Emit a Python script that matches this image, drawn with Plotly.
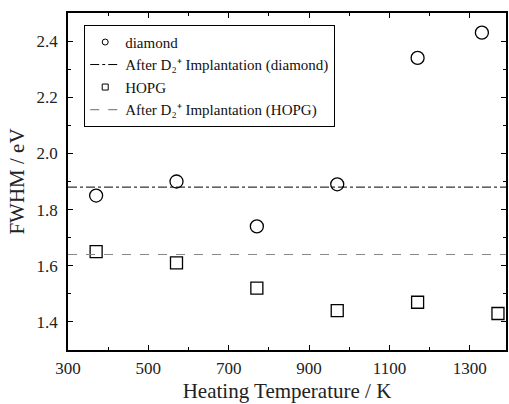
import plotly.graph_objects as go

temp_diamond = [370, 570, 770, 970, 1170, 1330]
fwhm_diamond = [1.85, 1.90, 1.74, 1.89, 2.34, 2.43]
temp_hopg = [370, 570, 770, 970, 1170, 1370]
fwhm_hopg = [1.65, 1.61, 1.52, 1.44, 1.47, 1.43]
after_diamond = 1.88
after_hopg = 1.64
x_range = [300, 1390]
y_range = [1.3, 2.5]
x_ticks = [300, 500, 700, 900, 1100, 1300]
y_ticks = [1.4, 1.6, 1.8, 2.0, 2.2, 2.4]

FONT = "Liberation Serif"

fig = go.Figure()
# data traces (not in legend)
fig.add_trace(go.Scatter(x=temp_diamond, y=fwhm_diamond, mode="markers", showlegend=False,
                         marker=dict(symbol="circle-open", size=13, color="black", line=dict(width=1.3))))
fig.add_trace(go.Scatter(x=temp_hopg, y=fwhm_hopg, mode="markers", showlegend=False,
                         marker=dict(symbol="square-open", size=12, color="black", line=dict(width=1.3))))
# legend entries
fig.add_trace(go.Scatter(x=[None], y=[None], mode="markers", name="diamond",
                         marker=dict(symbol="circle-open", size=6, color="black", line=dict(width=1))))
fig.add_trace(go.Scatter(x=x_range, y=[after_diamond] * 2, mode="lines",
                         name="After D\u2082\u207A Implantation (diamond)",
                         line=dict(color="black", width=1, dash="dashdot")))
fig.add_trace(go.Scatter(x=[None], y=[None], mode="markers", name="HOPG",
                         marker=dict(symbol="square-open", size=6, color="black", line=dict(width=1))))
fig.add_trace(go.Scatter(x=x_range, y=[after_hopg] * 2, mode="lines",
                         name="After D\u2082\u207A Implantation (HOPG)",
                         line=dict(color="#888888", width=1.2, dash="dash")))

axis_common = dict(showline=True, linecolor="black", linewidth=1.5, mirror="ticks",
                   ticks="inside", ticklen=5, tickwidth=1.2, tickcolor="black",
                   showgrid=False, zeroline=False,
                   tickfont=dict(family=FONT, size=17, color="#222"))
fig.update_xaxes(range=x_range, tickvals=x_ticks, ticktext=[str(v) for v in x_ticks],
                 minor=dict(dtick=100, tick0=300, ticks="inside", ticklen=3, tickcolor="black", tickwidth=1),
                 title=dict(text="Heating Temperature / K", font=dict(family=FONT, size=21, color="#222"), standoff=6),
                 ticklabelstandoff=2,
                 **axis_common)
fig.update_yaxes(range=y_range, tickvals=y_ticks, ticktext=[f"{v:.1f}" for v in y_ticks],
                 minor=dict(dtick=0.1, tick0=1.3, ticks="inside", ticklen=3, tickcolor="black", tickwidth=1),
                 title=dict(text="FWHM / eV", font=dict(family=FONT, size=21, color="#222"), standoff=6),
                 ticklabelstandoff=5,
                 **axis_common)
fig.update_layout(
    width=509, height=404,
    margin=dict(l=68, r=1, t=13, b=54),
    plot_bgcolor="white", paper_bgcolor="white",
    legend=dict(x=0.037, y=0.965, xanchor="left", yanchor="top",
                bordercolor="black", borderwidth=1, bgcolor="white",
                font=dict(family=FONT, size=15, color="#111"),
                tracegroupgap=0, itemwidth=30),
)
fig.write_html("out.html")
